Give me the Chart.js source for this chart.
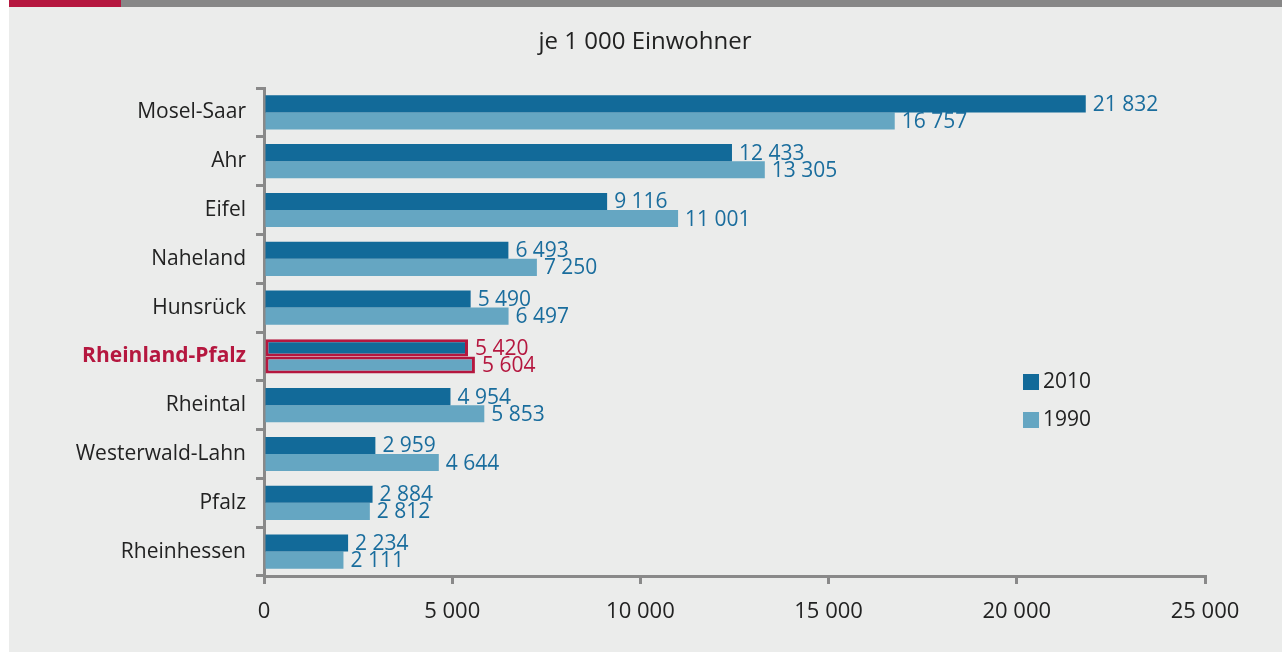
<!DOCTYPE html>
<html>
<head>
<meta charset="utf-8">
<script src="https://cdn.jsdelivr.net/npm/chart.js@4"></script>
<style>
  html, body { margin: 0; padding: 0; background: #ffffff; }
  #wrap { width: 1282px; height: 652px; }
</style>
</head>
<body>
<div id="wrap"><canvas id="regionen" width="1282" height="652"></canvas></div>
<script>
const regionen = ["Mosel-Saar", "Ahr", "Eifel", "Naheland", "Hunsrück", "Rheinland-Pfalz", "Rheintal", "Westerwald-Lahn", "Pfalz", "Rheinhessen"];
const werte2010 = [21832, 12433, 9116, 6493, 5490, 5420, 4954, 2959, 2884, 2234];
const werte1990 = [16757, 13305, 11001, 7250, 6497, 5604, 5853, 4644, 2812, 2111];
const jahre = ["2010", "1990"];
const titel = "je 1 000 Einwohner";

const dunkel = "#126a99";
const hell = "#65a6c2";
const rot = "#b5173f";
const textblau = "#1a6d9d";
const achse = "#898989";
const schrift = "'Open Sans', 'Noto Sans', sans-serif";
const landIndex = regionen.indexOf("Rheinland-Pfalz");

// 21832 -> "21 832"
function zahl(v) {
  return String(v).replace(/\B(?=(\d{3})+(?!\d))/g, " ");
}

// hintergrund, balken oben, titel, legende
const rahmen = {
  id: "rahmen",
  beforeDraw(chart) {
    const c = chart.ctx;
    c.save();
    c.fillStyle = "#ebeceb";
    c.fillRect(9, 0, 1273, 652);
    c.fillStyle = "#878787";
    c.fillRect(121, 0, 1161, 7);
    c.fillStyle = rot;
    c.fillRect(9, 0, 112, 7);
    c.fillStyle = "#222";
    c.font = "24px " + schrift;
    c.textAlign = "center";
    c.textBaseline = "middle";
    c.fillText(titel, 645, 42);
    // legende
    const farben = [dunkel, hell];
    c.font = "21px " + schrift;
    c.textAlign = "left";
    jahre.forEach((j, i) => {
      const y = 382 + i * 38;
      c.fillStyle = farben[i];
      c.fillRect(1023, y - 8, 16, 16);
      c.fillStyle = "#222";
      c.fillText(j, 1043, y);
    });
    c.restore();
  },
  afterDatasetsDraw(chart) {
    const c = chart.ctx;
    c.save();
    c.font = "21px " + schrift;
    c.textBaseline = "middle";
    c.textAlign = "left";
    chart.data.datasets.forEach((ds, d) => {
      chart.getDatasetMeta(d).data.forEach((bar, i) => {
        c.fillStyle = i === landIndex ? rot : textblau;
        c.fillText(zahl(ds.data[i]), bar.x + 7, bar.y + 1);
      });
    });
    c.restore();
  }
};

const ctx = document.getElementById("regionen").getContext("2d");
new Chart(ctx, {
  type: "bar",
  data: {
    labels: regionen,
    datasets: [
      {
        label: jahre[0],
        data: werte2010,
        backgroundColor: dunkel,
        borderColor: regionen.map((r, i) => i === landIndex ? rot : "rgba(0,0,0,0)"),
        borderWidth: regionen.map((r, i) => i === landIndex ? 3 : 0),
        borderSkipped: false,
        categoryPercentage: 0.7,
        barPercentage: 1.0
      },
      {
        label: jahre[1],
        data: werte1990,
        backgroundColor: hell,
        borderColor: regionen.map((r, i) => i === landIndex ? rot : "rgba(0,0,0,0)"),
        borderWidth: regionen.map((r, i) => i === landIndex ? 3 : 0),
        borderSkipped: false,
        categoryPercentage: 0.7,
        barPercentage: 1.0
      }
    ]
  },
  options: {
    indexAxis: "y",
    responsive: false,
    animation: false,
    layout: { padding: { top: 88, right: 77, left: 0, bottom: 0 } },
    plugins: {
      legend: { display: false },
      tooltip: { enabled: false }
    },
    scales: {
      x: {
        min: 0,
        max: 25000,
        afterFit(scale) { scale.height = 652 - 576; },
        ticks: {
          stepSize: 5000,
          color: "#222",
          padding: 15,
          font: { family: schrift, size: 22 },
          callback: (v) => zahl(v)
        },
        grid: { drawOnChartArea: false, color: achse, lineWidth: 3, tickLength: 8 },
        border: { color: achse, width: 3 }
      },
      y: {
        afterFit(scale) { scale.width = 264; },
        ticks: {
          padding: 10,
          color: (c) => c.index === landIndex ? rot : "#222",
          font: (c) => ({ family: schrift, size: 21, weight: c.index === landIndex ? "bold" : "normal" })
        },
        grid: { drawOnChartArea: false, offset: true, color: achse, lineWidth: 3, tickLength: 8 },
        border: { color: achse, width: 3 }
      }
    }
  },
  plugins: [rahmen]
});
</script>
</body>
</html>
